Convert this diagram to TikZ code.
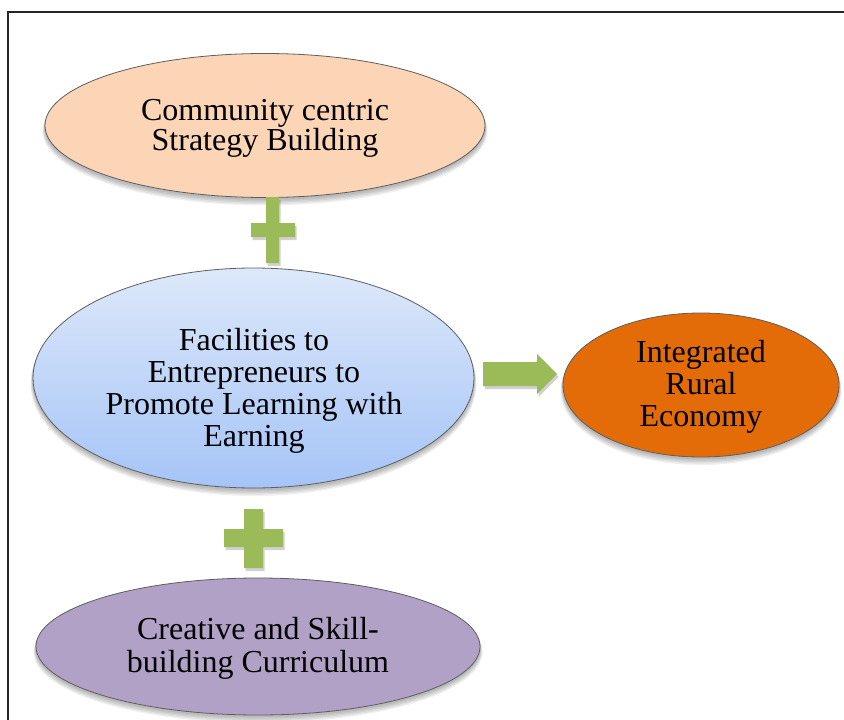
\documentclass[tikz,border=0pt]{standalone}
\usepackage{fontspec}
\setmainfont{Liberation Serif}
\usetikzlibrary{shapes.geometric}
\definecolor{peach}{HTML}{FBD5B5}
\definecolor{bluetop}{HTML}{DDE8FA}
\definecolor{bluebot}{HTML}{A5C4F7}
\definecolor{orng}{HTML}{E36C09}
\definecolor{purp}{HTML}{B2A1C7}
\definecolor{grn}{HTML}{9BBB59}
\definecolor{edgegray}{HTML}{5E5E5E}
\newcommand{\mysoftshad}[4]{%
  \foreach \k in {1,...,5}{%
    \fill[black,opacity=0.06] (#1,#2+1+\k*0.9) ellipse [x radius=#3+\k*0.5, y radius=#4+\k*0.5];}}
\tikzset{
  bub/.style={ellipse, draw=edgegray, line width=0.8pt, inner sep=0pt},
  txt/.style={align=center, inner sep=0pt, font=\fontsize{32}{32}\selectfont, text=black},
  greenshape/.style={fill=grn},
  greenshad/.style={fill=black, opacity=0.18},
}
\begin{document}
\begin{tikzpicture}[x=1pt,y=-1pt]
\useasboundingbox (0,0) rectangle (844,720);
\clip (0,0) rectangle (844,720);
\fill[white] (0,0) rectangle (844,720);
% frame
\draw[line width=1.5pt, black!85] (8,12) rectangle (900,800);

% shadows
\mysoftshad{265}{125.5}{220}{72}
\mysoftshad{253.5}{378}{220.5}{110}
\mysoftshad{701}{385}{138}{72}
\mysoftshad{258}{646.5}{222}{68.5}

% ellipses
\node[bub, fill=peach, minimum width=440pt, minimum height=144pt] (csb) at (265,125.5) {};
\node[txt] (csbT) at (265,128) {Community centric\\[-2pt]Strategy Building};

\node[bub, top color=bluetop, bottom color=bluebot, minimum width=441pt, minimum height=220pt] (fac) at (253.5,378) {};
\node[txt] (facT) at (254,391) {Facilities to\\Entrepreneurs to\\Promote Learning with\\Earning};

\node[bub, fill=orng, minimum width=276pt, minimum height=144pt] (ire) at (701,385) {};
\node[txt] (ireT) at (701,387) {Integrated\\Rural\\Economy};

\node[bub, fill=purp, minimum width=444pt, minimum height=137pt] (cur) at (258,646.5) {};
\node[txt] (curT) at (258,648) {Creative and Skill-\\[1pt]building Curriculum};

% plus 1
\fill[greenshad] ([shift={(1.5,3)}]266,197) -- ++(13,0) -- ++(0,26) -- ++(16,0) -- ++(0,14) -- ++(-16,0) -- ++(0,26) -- ++(-13,0) -- ++(0,-26) -- ++(-15,0) -- ++(0,-14) -- ++(15,0) -- cycle;
\fill[greenshape] (266,197) -- ++(13,0) -- ++(0,26) -- ++(16,0) -- ++(0,14) -- ++(-16,0) -- ++(0,26) -- ++(-13,0) -- ++(0,-26) -- ++(-15,0) -- ++(0,-14) -- ++(15,0) -- cycle;

% plus 2
\fill[greenshad] ([shift={(1.5,3)}]244,509) -- ++(19,0) -- ++(0,20) -- ++(20,0) -- ++(0,18) -- ++(-20,0) -- ++(0,21) -- ++(-19,0) -- ++(0,-21) -- ++(-20,0) -- ++(0,-18) -- ++(20,0) -- cycle;
\fill[greenshape] (244,509) -- ++(19,0) -- ++(0,20) -- ++(20,0) -- ++(0,18) -- ++(-20,0) -- ++(0,21) -- ++(-19,0) -- ++(0,-21) -- ++(-20,0) -- ++(0,-18) -- ++(20,0) -- cycle;

% arrow
\fill[greenshad] ([shift={(1.5,3)}]483,362) -- ++(54,0) -- ++(0,-8) -- ++(20,20) -- ++(-20,20) -- ++(0,-8) -- ++(-54,0) -- cycle;
\fill[greenshape] (483,362) -- ++(54,0) -- ++(0,-8) -- ++(20,20) -- ++(-20,20) -- ++(0,-8) -- ++(-54,0) -- cycle;
\end{tikzpicture}
\end{document}
